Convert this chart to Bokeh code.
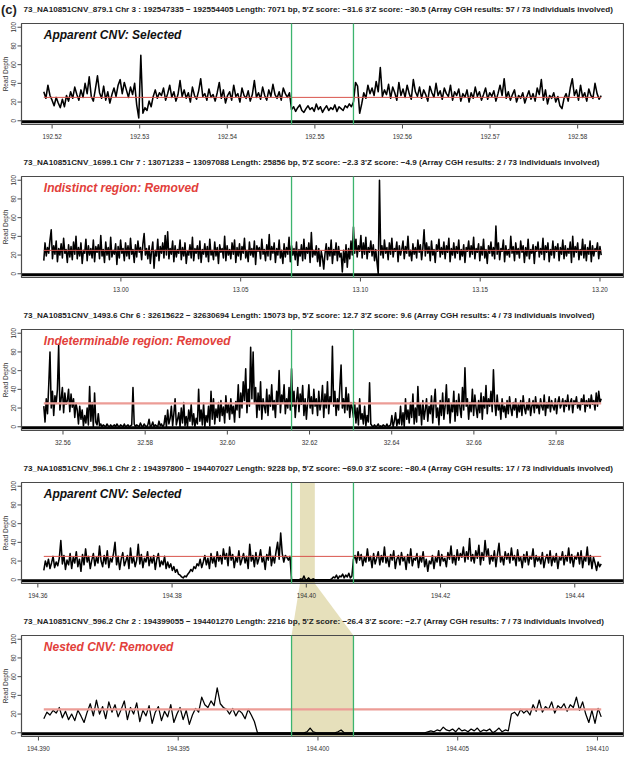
import numpy as np
from math import pi
from bokeh.plotting import figure
from bokeh.models import Range1d
from bokeh.embed import file_html
from bokeh.resources import INLINE
from bokeh.core.properties import value

# ---------------- data ----------------
titles = [
    "73_NA10851CNV_879.1  Chr  3 : 192547335 − 192554405  Length:  7071 bp, 5'Z score:  −31.6  3'Z score: −30.5 (Array CGH results:  57 / 73 individuals involved)",
    "73_NA10851CNV_1699.1  Chr  7 :  13071233 −  13097088  Length:  25856 bp, 5'Z score:  −2.3  3'Z score: −4.9 (Array CGH results:   2 / 73 individuals involved)",
    "73_NA10851CNV_1493.6  Chr  6 :  32615622 −  32630694  Length:  15073 bp, 5'Z score:  12.7  3'Z score: 9.6  (Array CGH results:   4 / 73 individuals involved)",
    "73_NA10851CNV_596.1  Chr  2 : 194397800 − 194407027  Length:  9228 bp, 5'Z score:  −69.0  3'Z score: −80.4  (Array CGH results:  17 / 73 individuals involved)",
    "73_NA10851CNV_596.2  Chr  2 : 194399055 − 194401270  Length:  2216 bp, 5'Z score:  −26.4  3'Z score: −2.7  (Array CGH results:   7 / 73 individuals involved)",
]
verdicts = ["Apparent CNV: Selected", "Indistinct region: Removed",
            "Indeterminable region: Removed", "Apparent CNV: Selected",
            "Nested CNV: Removed"]
verdict_colors = ["#111111", "#e2403a", "#e2403a", "#111111", "#e2403a"]
cnv_start = [192547335, 13071233, 32615622, 194397800, 194399055]
cnv_end = [192554405, 13097088, 32630694, 194407027, 194401270]
mean_depth = 25

xticks1 = [192.52, 192.53, 192.54, 192.55, 192.56, 192.57, 192.58]
xticks2 = [13.00, 13.05, 13.10, 13.15, 13.20]
xticks3 = [32.56, 32.58, 32.60, 32.62, 32.64, 32.66, 32.68]
xticks4 = [194.36, 194.38, 194.40, 194.42, 194.44]
xticks5 = [194.390, 194.395, 194.400, 194.405, 194.410]
xlabels1 = ["192.52", "192.53", "192.54", "192.55", "192.56", "192.57", "192.58"]
xlabels2 = ["13.00", "13.05", "13.10", "13.15", "13.20"]
xlabels3 = ["32.56", "32.58", "32.60", "32.62", "32.64", "32.66", "32.68"]
xlabels4 = ["194.36", "194.38", "194.40", "194.42", "194.44"]
xlabels5 = ["194.390", "194.395", "194.400", "194.405", "194.410"]
yticks = [0, 20, 40, 60, 80, 100]
ylabels = ["0", "20", "40", "60", "80", "100"]

depth1 = [
    31, 24, 38, 27, 22, 16, 25, 19, 14, 23,
    15, 27, 21, 31, 24, 36, 28, 22, 33, 25,
    40, 29, 47, 26, 21, 34, 48, 30, 24, 37,
    22, 31, 19, 28, 35, 26, 38, 44, 29, 41,
    33, 25, 36, 28, 40, 17, 3, 70, 8, 14,
    11, 21, 15, 26, 33, 24, 30, 27, 35, 22,
    29, 38, 25, 31, 21, 28, 43, 26, 33, 24,
    30, 20, 36, 27, 23, 32, 45, 26, 29, 22,
    34, 25, 28, 21, 30, 41, 24, 33, 19, 27,
    31, 22, 38, 26, 29, 20, 35, 27, 24, 32,
    21, 28, 43, 25, 30, 23, 36, 27, 22, 33,
    26, 39, 28, 24, 31, 22, 35, 29, 25, 30,
    12, 15, 10, 14, 17, 11, 9, 13, 16, 12,
    14, 10, 18, 12, 15, 9, 13, 16, 11, 14,
    12, 17, 10, 15, 13, 11, 16, 14, 18, 15,
    20, 41, 37, 8, 18, 30, 24, 38, 29, 35,
    27, 42, 31, 57, 26, 33, 28, 39, 24, 36,
    30, 22, 41, 27, 34, 25, 38, 29, 23, 44,
    31, 26, 36, 24, 33, 28, 21, 37, 30, 25,
    40, 27, 32, 23, 35, 29, 26, 38, 22, 31,
    27, 34, 21, 29, 25, 33, 20, 30, 24, 36,
    26, 31, 22, 28, 35, 23, 30, 26, 32, 21,
    29, 38, 27, 45, 24, 31, 22, 28, 33, 20,
    27, 24, 30, 19, 26, 32, 23, 29, 21, 35,
    28, 44, 22, 33, 18, 27, 24, 30, 20, 26,
    16, 13, 24, 29, 21, 35, 45, 27, 33, 22,
    38, 25, 30, 21, 34, 27, 24, 40, 29, 23,
    27,
]
depth2 = [
    14, 33, 19, 28, 22, 36, 47, 16, 30, 21,
    35, 13, 27, 20, 32, 17, 38, 22, 26, 12,
    31, 18, 29, 15, 34, 21, 40, 16, 28, 19,
    33, 11, 25, 22, 37, 14, 30, 20, 27, 17,
    36, 13, 29, 23, 31, 16, 41, 19, 26, 12,
    34, 20, 28, 15, 39, 18, 25, 21, 32, 10,
    29, 17, 36, 22, 27, 14, 33, 19, 30, 16,
    38, 21, 26, 12, 31, 18, 35, 23, 28, 15,
    32, 43, 20, 27, 16, 30, 11, 24, 34, 6,
    25, 19, 37, 14, 29, 22, 33, 17, 41, 20,
    45, 16, 27, 21, 35, 13, 30, 18, 26, 22,
    36, 15, 28, 19, 33, 11, 24, 20, 31, 17,
    39, 14, 27, 22, 30, 16, 35, 12, 26, 21,
    32, 18, 29, 13, 37, 20, 25, 15, 34, 19,
    28, 11, 31, 23, 27, 17, 40, 14, 30, 20,
    26, 16, 33, 21, 36, 12, 28, 19, 32, 15,
    29, 22, 38, 17, 25, 13, 34, 20, 27, 18,
    35, 10, 30, 24, 28, 16, 37, 21, 26, 14,
    31, 19, 42, 15, 29, 22, 33, 12, 27, 20,
    36, 17, 25, 11, 32, 18, 28, 21, 39, 13,
    30, 20, 27, 15, 34, 9, 26, 19, 31, 14,
    37, 16, 28, 22, 33, 12, 44, 18, 25, 20,
    30, 13, 27, 8, 24, 17, 5, 21, 32, 15,
    28, 19, 36, 11, 26, 20, 33, 14, 29, 18,
    22, 2, 25, 12, 31, 7, 27, 16, 35, 20,
    50, 22, 37, 18, 30, 24, 41, 17, 33, 21,
    39, 16, 28, 23, 35, 19, 31, 14, 26, 12,
    0, 100, 20, 30, 17, 36, 22, 28, 15, 33,
    21, 38, 18, 27, 24, 34, 13, 30, 20, 26,
    35, 16, 29, 22, 40, 19, 25, 14, 32, 21,
    28, 17, 36, 23, 31, 15, 27, 47, 19, 33,
    22, 29, 14, 35, 20, 26, 12, 31, 24, 37,
    18, 28, 21, 34, 16, 30, 23, 38, 13, 27,
    20, 33, 17, 29, 22, 36, 15, 26, 19, 31,
    12, 28, 24, 35, 18, 30, 21, 39, 16, 27,
    23, 32, 14, 29, 20, 37, 17, 26, 11, 30,
    22, 34, 19, 28, 16, 51, 21, 33, 15, 27,
    24, 36, 13, 30, 20, 26, 18, 40, 22, 29,
    14, 33, 21, 27, 17, 35, 23, 30, 12, 28,
    19, 37, 16, 26, 22, 31, 11, 29, 24, 34,
    18, 27, 21, 38, 15, 30, 23, 33, 13, 26,
    20, 35, 17, 29, 24, 32, 14, 28, 21, 36,
    16, 30, 19, 27, 22, 34, 12, 40, 18, 29,
    23, 33, 15, 26, 20, 37, 17, 31, 14, 28,
    21, 35, 13, 30, 19, 27, 24, 33, 16, 29,
    20,
]
depth3 = [
    22, 5, 30, 14, 45, 80, 20, 38, 12, 33,
    25, 40, 87, 18, 30, 42, 15, 36, 24, 28,
    40, 16, 35, 21, 30, 10, 25, 18, 3, 22,
    8, 18, 1, 12, 4, 20, 2, 43, 6, 26,
    0, 36, 5, 2, 14, 1, 3, 0, 2, 1,
    0, 3, 1, 0, 2, 0, 1, 2, 0, 3,
    1, 0, 2, 1, 0, 3, 0, 1, 2, 0,
    1, 2, 42, 3, 0, 2, 1, 0, 4, 1,
    0, 3, 1, 0, 2, 8, 0, 1, 5, 0,
    2, 1, 0, 6, 1, 3, 0, 2, 12, 0,
    18, 3, 9, 22, 1, 14, 30, 2, 8, 15,
    0, 20, 4, 26, 1, 11, 0, 18, 6, 24,
    2, 14, 0, 9, 3, 40, 6, 18, 2, 25,
    0, 12, 5, 22, 1, 38, 8, 30, 3, 19,
    10, 26, 6, 28, 12, 21, 4, 33, 15, 24,
    8, 30, 14, 22, 5, 27, 18, 45, 10, 36,
    20, 48, 28, 62, 15, 40, 22, 85, 30, 80,
    25, 42, 10, 36, 18, 48, 8, 30, 22, 15,
    40, 12, 34, 22, 45, 18, 28, 10, 38, 24,
    60, 15, 34, 26, 45, 14, 30, 20, 42, 18,
    62, 22, 38, 10, 28, 42, 16, 35, 24, 44,
    12, 30, 8, 26, 45, 20, 32, 14, 40, 22,
    30, 12, 38, 18, 26, 44, 10, 35, 20, 48,
    14, 32, 25, 86, 22, 38, 12, 30, 18, 42,
    66, 20, 30, 15, 42, 18, 35, 10, 26, 20,
    10, 26, 4, 20, 2, 30, 8, 14, 3, 22,
    1, 12, 5, 47, 3, 1, 0, 2, 0, 1,
    3, 0, 1, 0, 2, 1, 0, 3, 0, 1,
    2, 12, 0, 6, 15, 1, 8, 3, 22, 2,
    15, 0, 30, 8, 18, 4, 26, 10, 35, 3,
    20, 5, 43, 12, 24, 2, 28, 8, 18, 30,
    6, 22, 14, 33, 4, 25, 40, 10, 20, 2,
    28, 12, 36, 8, 22, 45, 14, 30, 4, 24,
    16, 38, 6, 28, 12, 35, 20, 10, 42, 18,
    63, 22, 30, 8, 26, 16, 40, 12, 34, 20,
    10, 28, 15, 36, 8, 32, 20, 44, 14, 30,
    22, 38, 16, 61, 26, 12, 34, 18, 24, 8,
    30, 16, 22, 10, 28, 14, 32, 20, 12, 26,
    18, 30, 10, 24, 16, 28, 12, 33, 20, 14,
    26, 18, 30, 12, 22, 28, 15, 32, 20, 24,
    14, 30, 22, 18, 34, 12, 26, 20, 32, 16,
    28, 22, 18, 30, 14, 26, 32, 20, 24, 30,
    16, 28, 22, 34, 18, 26, 30, 15, 28, 24,
    32, 20, 26, 18, 30, 24, 34, 16, 28, 22,
    30, 20, 34, 24, 28, 18, 36, 22, 38, 26,
    30,
]
depth4 = [
    10, 20, 14, 22, 12, 18, 25, 13, 19, 15,
    23, 42, 17, 26, 11, 21, 16, 28, 12, 24,
    18, 30, 14, 22, 9, 27, 16, 33, 19, 25,
    12, 21, 28, 15, 24, 18, 36, 20, 14, 26,
    17, 31, 13, 23, 19, 28, 40, 16, 25, 11,
    22, 29, 15, 20, 26, 12, 34, 18, 24, 14,
    21, 38, 17, 27, 13, 23, 19, 30, 15, 24,
    18, 26, 11, 22, 28, 14, 20, 16, 25, 12,
    19, 13, 17, 10, 14, 8, 11, 6, 5, 3,
    2, 4, 3, 6, 8, 11, 9, 14, 12, 17,
    15, 22, 13, 19, 26, 16, 23, 12, 28, 18,
    24, 14, 30, 20, 26, 17, 33, 22, 28, 15,
    35, 21, 27, 13, 24, 19, 31, 16, 22, 28,
    18, 25, 12, 38, 20, 26, 14, 29, 17, 23,
    32, 19, 24, 11, 27, 21, 35, 15, 25, 18,
    30, 40, 22, 50, 28, 19, 26, 24, 21, 25,
    0, 0, 0, 0, 0, 0, 1, 0, 4, 0,
    0, 2, 0, 0, 1, 0, 0, 0, 0, 0,
    0, 0, 0, 0, 0, 0, 1, 3, 2, 5,
    1, 4, 3, 6, 2, 5, 3, 7, 2, 4,
    22, 26, 18, 30, 21, 27, 15, 24, 19, 33,
    20, 25, 13, 28, 17, 23, 30, 16, 26, 19,
    35, 18, 24, 14, 27, 21, 31, 12, 22, 26,
    16, 29, 20, 24, 11, 27, 18, 33, 15, 23,
    21, 28, 13, 25, 19, 30, 14, 22, 9, 20,
    17, 26, 12, 24, 19, 31, 15, 27, 20, 23,
    14, 29, 22, 36, 18, 26, 16, 32, 21, 28,
    24, 35, 19, 30, 22, 44, 20, 27, 18, 31,
    23, 37, 16, 29, 21, 42, 25, 33, 17, 26,
    20, 31, 14, 27, 39, 19, 25, 16, 30, 22,
    28, 18, 34, 21, 26, 15, 32, 20, 24, 13,
    27, 19, 30, 16, 25, 22, 33, 14, 26, 20,
    24, 17, 29, 13, 22, 27, 18, 31, 15, 25,
    19, 28, 12, 24, 21, 30, 16, 26, 20, 34,
    18, 27, 14, 25, 22, 29, 17, 31, 13, 24,
    20, 35, 16, 26, 12, 24, 18, 10, 19, 14,
    17,
]
depth5 = [
    15, 22, 19, 24, 21, 27, 16, 23, 14, 20,
    13, 24, 18, 11, 22, 31, 18, 35, 20, 28,
    15, 33, 22, 30, 17, 25, 34, 14, 27, 20,
    32, 12, 24, 18, 29, 10, 22, 28, 13, 23,
    17, 30, 11, 20, 27, 14, 24, 9, 19, 26,
    22, 38, 30, 27, 34, 29, 48, 31, 27, 25,
    20, 26, 18, 24, 21, 15, 25, 19, 12, 0,
    0, 0, 0, 0, 0, 0, 0, 0, 0, 0,
    0, 0, 0, 0, 0, 1, 5, 1, 0, 0,
    0, 0, 0, 0, 0, 1, 3, 0, 0, 0,
    0, 0, 0, 0, 0, 0, 0, 0, 0, 0,
    0, 0, 0, 0, 0, 0, 0, 0, 0, 0,
    0, 0, 0, 0, 1, 2, 1, 3, 2, 6,
    3, 2, 4, 1, 5, 2, 3, 1, 4, 2,
    5, 1, 3, 2, 4, 0, 2, 5, 1, 3,
    2, 20, 22, 18, 25, 21, 24, 19, 30, 23,
    35, 22, 28, 25, 33, 21, 29, 26, 31, 23,
    30, 27, 38, 24, 33, 20, 11, 24, 10, 26,
    17,
]

depths = [depth1, depth2, depth3, depth4, depth5]
xticks = [xticks1, xticks2, xticks3, xticks4, xticks5]
xlabels = [xlabels1, xlabels2, xlabels3, xlabels4, xlabels5]

# ---------------- layout (canvas px, top-down) ----------------
W, H = 624, 757
BOX_L, BOX_R = 21, 623
BOX_TOP = [23, 176, 329, 482, 635]
BOX_H = 101
YLIM = (-4, 104)

FONT = value("Liberation Sans")
BOX_COL = "#4a4a4a"
GREEN = "#3cb46e"
TAN = "#e6e0bb"

p = figure(width=W, height=H, x_range=Range1d(0, W), y_range=Range1d(H, 0),
           output_backend="svg", toolbar_location=None,
           x_axis_type=None, y_axis_type=None, min_border=0)
p.outline_line_color = None
p.background_fill_color = "white"
p.border_fill_color = "white"

xr, yr, wins, xlims = {}, {}, [], []
for i in range(5):
    L = cnv_end[i] - cnv_start[i] + 1
    ws = (cnv_start[i] - 4 * L) / 1e6
    we = (cnv_end[i] + 4 * L) / 1e6
    ext = 0.04 * (we - ws)
    x0, x1 = ws - ext, we + ext
    k = (BOX_R - BOX_L) / (x1 - x0)
    s = x0 - BOX_L / k
    xr[f"x{i}"] = Range1d(s, s + W / k)
    bot = BOX_TOP[i] + BOX_H
    ky = BOX_H / (YLIM[1] - YLIM[0])
    ys = YLIM[0] - (H - bot) / ky
    yr[f"y{i}"] = Range1d(ys, ys + H / ky)
    wins.append((ws, we))
    xlims.append((x0, x1))
p.extra_x_ranges = xr
p.extra_y_ranges = yr


def to_px(x, i):
    r = xr[f"x{i}"]
    return (x - r.start) / (r.end - r.start) * W


# nested-CNV highlight (panel 4 -> panel 5)
ns, ne = cnv_start[4] / 1e6, cnv_end[4] / 1e6
for i in (3, 4):
    p.quad(left=[ns], right=[ne], bottom=[YLIM[0]], top=[YLIM[1]],
           fill_color=TAN, line_color=None,
           x_range_name=f"x{i}", y_range_name=f"y{i}")
b4 = BOX_TOP[3] + BOX_H
t5 = BOX_TOP[4]
p.patch(x=[to_px(ns, 3), to_px(ne, 3), to_px(ne, 4), to_px(ns, 4)],
        y=[b4, b4, t5, t5], fill_color=TAN, line_color=None)

for i in range(5):
    xn, yn = f"x{i}", f"y{i}"
    ws, we = wins[i]
    x0, x1 = xlims[i]
    top = BOX_TOP[i]
    bot = top + BOX_H
    vals = depths[i]
    xs = np.linspace(ws, we, len(vals))

    # trace
    p.line(xs, vals, line_color="black", line_width=1.55 if i < 4 else 1.25,
           line_join="round", x_range_name=xn, y_range_name=yn)
    # baseline
    p.segment(x0=[x0], y0=[-1], x1=[x1], y1=[-1], line_color="black",
              line_width=3, x_range_name=xn, y_range_name=yn)
    # mean depth line
    if i in (2, 4):
        p.segment(x0=[ws], y0=[mean_depth], x1=[we], y1=[mean_depth],
                  line_color="#ec9c96", line_width=2.2, x_range_name=xn, y_range_name=yn)
    else:
        p.segment(x0=[ws], y0=[mean_depth], x1=[we], y1=[mean_depth],
                  line_color="#d9544c", line_width=1, x_range_name=xn, y_range_name=yn)
    # box
    p.quad(left=[x0], right=[x1], bottom=[YLIM[0]], top=[YLIM[1]],
           fill_color=None, line_color=BOX_COL, line_width=1.2,
           x_range_name=xn, y_range_name=yn)
    # CNV boundaries
    cs, ce = cnv_start[i] / 1e6, cnv_end[i] / 1e6
    p.segment(x0=[cs, ce], y0=[YLIM[0]] * 2, x1=[cs, ce], y1=[YLIM[1]] * 2,
              line_color=GREEN, line_width=1.3, x_range_name=xn, y_range_name=yn)
    # x axis ticks / labels
    tx = xticks[i]
    p.segment(x0=tx, y0=[bot] * len(tx), x1=tx, y1=[bot + 4] * len(tx),
              line_color=BOX_COL, line_width=1, x_range_name=xn)
    p.text(x=tx, y=[bot + 12] * len(tx), text=xlabels[i], text_font=FONT,
           text_font_size="6.3px", text_color="#333333", text_align="center",
           text_baseline="middle", x_range_name=xn)
    # y axis ticks / labels
    p.segment(x0=[BOX_L] * 6, y0=yticks, x1=[BOX_L - 4] * 6, y1=yticks,
              line_color=BOX_COL, line_width=1, y_range_name=yn)
    p.text(x=[BOX_L - 6] * 6, y=yticks, text=ylabels, angle=pi / 2,
           text_font=FONT, text_font_size="6.3px", text_color="#333333",
           text_align="center", text_baseline="bottom", y_range_name=yn)
    p.text(x=[4.5], y=[50], text=["Read Depth"], angle=pi / 2,
           text_font=FONT, text_font_size="6.5px", text_color="#333333",
           text_align="center", text_baseline="middle", y_range_name=yn)
    # title
    p.text(x=[BOX_L + 2], y=[top - 14], text=[titles[i]], text_font=FONT,
           text_font_size="8.1px", text_font_style="bold", text_color="#222222",
           text_align="left", text_baseline="middle")
    # verdict
    p.text(x=[ws], y=[92], text=[verdicts[i]], text_font=FONT,
           text_font_size="12px", text_font_style="bold italic",
           text_color=verdict_colors[i], text_align="left", text_baseline="middle",
           x_range_name=xn, y_range_name=yn)

p.text(x=[0.5], y=[1], text=["(c)"], text_font=FONT, text_font_size="13px",
       text_font_style="bold", text_color="#222222", text_align="left",
       text_baseline="top")

open("out.html", "w").write(file_html(p, INLINE))
